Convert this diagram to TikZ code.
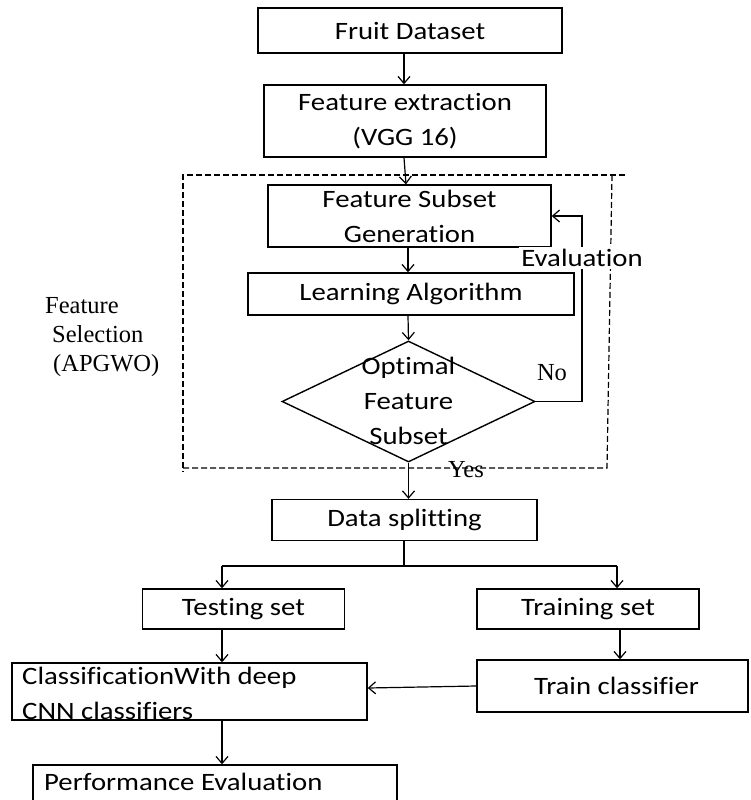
\documentclass[tikz,border=0pt]{standalone}
\usepackage{fontspec}
\setmainfont{Carlito}[FakeStretch=1.15, Ligatures=NoCommon]
\newfontfamily\serifl{Liberation Serif}
\usetikzlibrary{arrows.meta,shapes.geometric}
\begin{document}
\begin{tikzpicture}[x=1pt,y=-1pt,
  box/.style={draw, line width=1.4pt, inner sep=0pt, font=\fontsize{25}{35}\selectfont},
  arr/.style={-{Straight Barb[length=7pt,width=12pt]}, line width=1.2pt},
  ln/.style={line width=1.2pt},
  dsh/.style={dash pattern=on 6pt off 3pt, line width=1.2pt},
  sl/.style={font=\serifl\fontsize{24.5}{29}\selectfont, inner sep=0pt},
  txt/.style={font=\fontsize{25}{35}\selectfont, inner sep=0pt}]
\clip (0,0) rectangle (750,800);
\fill[white] (0,0) rectangle (750,800);

% dashed feature selection region
\draw[dsh] (625,175) -- (183,175) -- (183,472);
\draw[dsh] (612,175) -- (607,468) -- (183,468);

\node[box, minimum width=304pt, minimum height=45pt] (fruit) at (410,30.5) {Fruit Dataset};
\node[box, minimum width=282pt, minimum height=72pt, align=center] (feat) at (405,121) {Feature extraction\\(VGG 16)};
\node[box, minimum width=283pt, minimum height=62pt, align=center] (fsg) at (409.5,216) {Feature Subset\\Generation};
\node[box, minimum width=326pt, minimum height=42pt] (learn) at (411,294) {Learning Algorithm};
\node[draw, diamond, line width=1.4pt, minimum width=253pt, minimum height=121pt, inner sep=0pt] (dia) at (408.5,401.5) {};
\node[txt, align=center] (diat) at (408.5,401) {Optimal\\Feature\\Subset};

\node[box, minimum width=265pt, minimum height=41pt] (split) at (404.5,520) {Data splitting};
\node[box, minimum width=202pt, minimum height=40pt] (test) at (243.5,609) {Testing set};
\node[box, minimum width=222pt, minimum height=40pt] (train) at (588,609) {Training set};
\node[box, minimum width=355pt, minimum height=57pt] (cls) at (189.5,691.5) {};
\node[txt, anchor=west, align=left] (clst) at (22,693) {ClassificationWith deep\\CNN classifiers};
\node[box, minimum width=271pt, minimum height=52pt] (tc) at (612.5,686) {\hspace*{8pt}Train classifier};
\node[box, minimum width=364pt, minimum height=52pt] (perf) at (215,791) {};
\node[txt, anchor=west] (perft) at (44,782) {Performance Evaluation};

% labels
\node[sl, anchor=west, align=left] (fsl) at (45,337) {Feature\\\hspace*{7pt}Selection\\\hspace*{8pt}(APGWO)};
\node[sl] (no) at (552,373) {No};
\node[sl] (yes) at (466,470) {Yes};

% connectors
\draw[arr] (fruit.south -| 404,0) -- (feat.north -| 404,0);
\draw[arr] (feat.south -| 404,0) -- (fsg.north -| 406,0);
\draw[arr] (fsg.south -| 408,0) -- (learn.north -| 408,0);
\draw[arr] (learn.south -| 408,0) -- (dia.north);
\draw[arr] (dia.south) -- (split.north -| dia.south);
\coordinate (lp) at (582,216);
\draw[arr] (dia.east) -| (lp) -- (fsg.east);
\node[txt, fill=white, inner sep=2pt] (eval) at (582,258) {Evaluation};

\coordinate (sj) at (404,566);
\coordinate (sl) at (222,566);
\coordinate (sr) at (617,566);
\draw[ln] (split.south -| sj) -- (sj);
\draw[ln] (sl) -- (sr);
\draw[arr] (sl) -- (test.north -| sl);
\draw[arr] (sr) -- (train.north -| sr);
\draw[arr] (test.south -| sl) -- (cls.north -| sl);
\draw[arr] (train.south -| 620,0) -- (tc.north -| 620,0);
\draw[arr] (tc.west) -- (cls.east |- 0,688);
\draw[arr] (cls.south -| sl) -- (perf.north -| sl);
\end{tikzpicture}
\end{document}
